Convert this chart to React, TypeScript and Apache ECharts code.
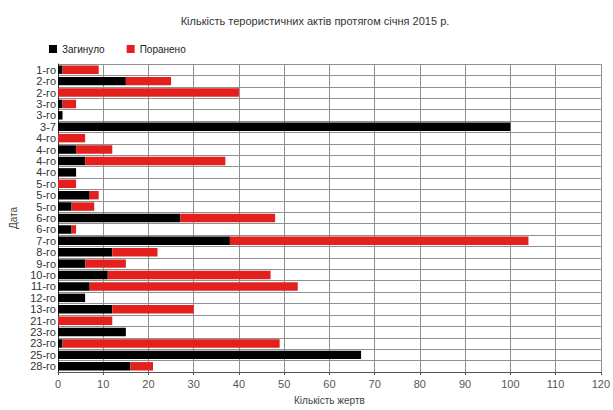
import React, { useEffect, useRef } from "react";
import * as echarts from "echarts";

const title = "Кількість терористичних актів протягом січня 2015 р.";
const categories = [
  "1-го", "2-го", "2-го", "3-го", "3-го", "3-7", "4-го", "4-го", "4-го", "4-го",
  "5-го", "5-го", "5-го", "6-го", "6-го", "7-го", "8-го", "9-го", "10-го", "11-го",
  "12-го", "13-го", "21-го", "23-го", "23-го", "25-го", "28-го",
];
const killed = [1, 15, 0, 1, 1, 100, 0, 4, 6, 4, 0, 7, 3, 27, 3, 38, 12, 6, 11, 7, 6, 12, 0, 15, 1, 67, 16];
const wounded = [8, 10, 40, 3, 0, 0, 6, 8, 31, 0, 4, 2, 5, 21, 1, 66, 10, 9, 36, 46, 0, 18, 12, 0, 48, 0, 5];
const xTicks = { min: 0, max: 120, interval: 10 };

export default function App() {
  const ref = useRef<HTMLDivElement>(null);
  useEffect(() => {
    const chart = echarts.init(ref.current!, null, { renderer: "svg" });
    const font = "Liberation Sans, Arial, sans-serif";
    chart.setOption({
      animation: false,
      textStyle: { fontFamily: font },
      title: {
        text: title,
        left: 310,
        textAlign: "center",
        top: 10,
        textStyle: { fontSize: 11, fontWeight: "normal", color: "#333", fontFamily: font },
      },
      legend: {
        left: 44,
        top: 39,
        itemWidth: 8,
        itemHeight: 8,
        itemGap: 22,
        icon: "rect",
        textStyle: { fontSize: 10, color: "#222", fontFamily: font },
        data: ["Загинуло", "Поранено"],
      },
      grid: { left: 57, right: 10, top: 64, bottom: 35, containLabel: false },
      xAxis: {
        type: "value",
        min: xTicks.min,
        max: xTicks.max,
        interval: xTicks.interval,
        name: "Кількість жертв",
        nameLocation: "middle",
        nameGap: 23,
        nameTextStyle: { fontSize: 10, color: "#444", fontFamily: font },
        axisLine: { show: true, lineStyle: { color: "#555", width: 1 } },
        axisTick: { show: true, length: 3, lineStyle: { color: "#555" } },
        axisLabel: { fontSize: 11, color: "#555", margin: 6, fontFamily: font },
        splitLine: { show: true, lineStyle: { color: "#8f8f8f", width: 1 } },
      },
      yAxis: {
        type: "category",
        inverse: true,
        data: categories,
        name: "Дата",
        nameLocation: "middle",
        nameGap: 40,
        nameRotate: 90,
        nameTextStyle: { fontSize: 10, color: "#444", fontFamily: font },
        axisLine: { show: true, lineStyle: { color: "#333", width: 1 } },
        axisTick: { show: false },
        axisLabel: { fontSize: 11, color: "#333", margin: 2, interval: 0, fontFamily: font },
        splitLine: { show: true, interval: 0, lineStyle: { color: "#8f8f8f", width: 1 } },
      },
      series: [
        {
          name: "Загинуло",
          type: "bar",
          stack: "total",
          data: killed,
          barWidth: "74%",
          itemStyle: { color: "#000" },
        },
        {
          name: "Поранено",
          type: "bar",
          stack: "total",
          data: wounded,
          barWidth: "74%",
          itemStyle: { color: "#e3201d" },
        },
      ],
    });
    return () => chart.dispose();
  }, []);
  return <div ref={ref} style={{ width: 613, height: 410, position: "absolute", left: 0, top: 0 }} />;
}
